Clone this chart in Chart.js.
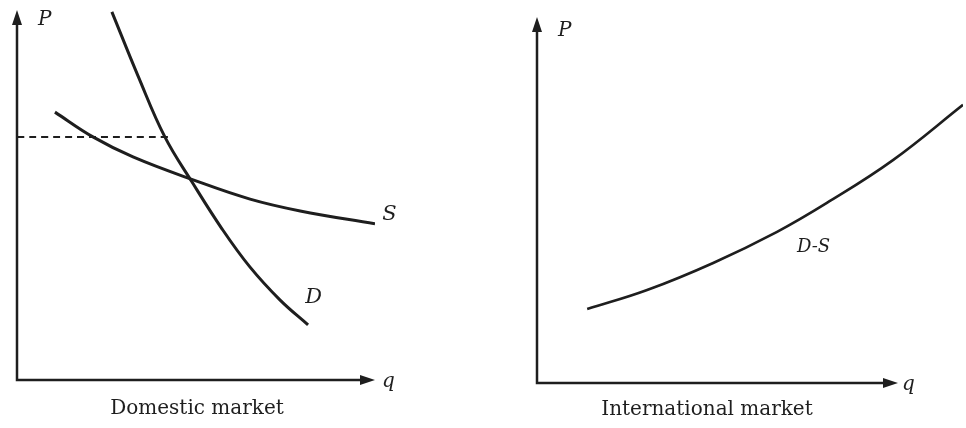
<!DOCTYPE html>
<html>
<head>
<meta charset="utf-8">
<script src="https://cdn.jsdelivr.net/npm/chart.js@4/dist/chart.umd.min.js"></script>
<style>
  body { margin: 0; background: #fff; }
  #wrap { position: relative; width: 966px; height: 428px; }
  .panel { position: absolute; top: 0; width: 483px; height: 428px; }
</style>
</head>
<body>
<div id="wrap">
  <div class="panel" style="left:0"><canvas id="domestic"></canvas></div>
  <div class="panel" style="left:483px"><canvas id="international"></canvas></div>
</div>
<script>
// Domestic market: demand curve D
const demandQ = [26.5, 33.8, 41.3, 48.9, 57.3, 65.1, 73.5, 81.3];
const demandP = [99.5, 82.2, 65.7, 53.5, 40.8, 30.5, 21.6, 14.9];

// Domestic market: supply curve S
const supplyQ = [10.6, 21.2, 32.4, 49.2, 65.1, 79.1, 100];
const supplyP = [72.4, 65.7, 60.3, 54.1, 48.9, 45.7, 42.2];

// Dashed world price line
const priceLineQ = [0, 42.7];
const priceLineP = [65.7, 65.7];

// International market: excess demand curve D-S
const excessQ = [13.9, 30.5, 48.8, 66.5, 80.3, 98.6, 118];
const excessP = [20.2, 25.4, 32.8, 41.3, 49.2, 60.9, 76.0];

const INK = '#1e1e1e';
const SERIF = '"DejaVu Serif", "Liberation Serif", serif';

function toPoints(xs, ys) {
    return xs.map((x, i) => ({ x: x, y: ys[i] }));
}

// Draw axes with arrowheads, axis names, curve labels and caption
const econPlugin = {
    id: 'econ',
    afterDraw(chart) {
        const o = chart.options.plugins.econ;
        if (!o) return;
        const xs = chart.scales.x, ys = chart.scales.y;
        const ctx = chart.ctx;
        const x0 = xs.getPixelForValue(0), y0 = ys.getPixelForValue(0);
        const xEnd = xs.getPixelForValue(o.xAxisEnd), yEnd = ys.getPixelForValue(o.yAxisEnd);
        ctx.save();
        ctx.strokeStyle = INK;
        ctx.fillStyle = INK;
        ctx.lineWidth = 2.5;
        ctx.beginPath();
        ctx.moveTo(x0, yEnd + 8);
        ctx.lineTo(x0, y0);
        ctx.lineTo(xEnd - 8, y0);
        ctx.stroke();
        // arrowheads
        ctx.beginPath();
        ctx.moveTo(x0, yEnd);
        ctx.lineTo(x0 - 5, yEnd + 15);
        ctx.lineTo(x0 + 5, yEnd + 15);
        ctx.closePath();
        ctx.fill();
        ctx.beginPath();
        ctx.moveTo(xEnd, y0);
        ctx.lineTo(xEnd - 15, y0 - 5);
        ctx.lineTo(xEnd - 15, y0 + 5);
        ctx.closePath();
        ctx.fill();
        // axis names
        ctx.textBaseline = 'middle';
        ctx.textAlign = 'left';
        ctx.font = 'italic 20px ' + SERIF;
        ctx.fillText('P', x0 + 21, yEnd + o.pOffset);
        ctx.fillText('q', xEnd + o.qOffset, y0 + 2);
        // curve labels
        o.labels.forEach(l => {
            ctx.font = 'italic ' + l.size + 'px ' + SERIF;
            ctx.fillText(l.text, xs.getPixelForValue(l.q), ys.getPixelForValue(l.p));
        });
        // caption
        ctx.textAlign = 'center';
        ctx.font = '20px ' + SERIF;
        ctx.fillText(o.caption, o.captionX, o.captionY);
        ctx.restore();
    }
};
Chart.register(econPlugin);

function baseOptions(xMax, padding, econ) {
    return {
        responsive: false,
        animation: false,
        layout: { padding: padding },
        plugins: { legend: { display: false }, tooltip: { enabled: false }, econ: econ },
        scales: {
            x: { type: 'linear', min: 0, max: xMax, display: false },
            y: { type: 'linear', min: 0, max: 100, display: false }
        },
        elements: { point: { radius: 0 } }
    };
}

function curve(data, dash, width) {
    return {
        data: data,
        showLine: true,
        borderColor: INK,
        borderWidth: dash ? 2 : width,
        borderDash: dash ? [7, 5] : [],
        tension: 0.4,
        fill: false
    };
}

function makeCanvas(id) {
    const c = document.getElementById(id);
    c.width = 483;
    c.height = 428;
    return c;
}

new Chart(makeCanvas('domestic'), {
    type: 'scatter',
    data: {
        datasets: [
            curve(toPoints(demandQ, demandP), false, 3),
            curve(toPoints(supplyQ, supplyP), false, 3),
            curve(toPoints(priceLineQ, priceLineP), true)
        ]
    },
    options: baseOptions(100, { left: 17, top: 10, right: 108, bottom: 48 }, {
        xAxisEnd: 100,
        yAxisEnd: 100,
        pOffset: 10,
        qOffset: 7,
        caption: 'Domestic market',
        captionX: 197,
        captionY: 409,
        labels: [
            { text: 'S', q: 102, p: 44.6, size: 21 },
            { text: 'D', q: 80.5, p: 22.2, size: 21 }
        ]
    })
});

new Chart(makeCanvas('international'), {
    type: 'scatter',
    data: {
        datasets: [curve(toPoints(excessQ, excessP), false, 2.6)]
    },
    options: baseOptions(118, { left: 54, top: 17, right: 3, bottom: 45 }, {
        xAxisEnd: 100,
        yAxisEnd: 100,
        pOffset: 14,
        qOffset: 4,
        caption: 'International market',
        captionX: 224,
        captionY: 410,
        labels: [
            { text: 'D-S', q: 72, p: 37.2, size: 18 }
        ]
    })
});
</script>
</body>
</html>
